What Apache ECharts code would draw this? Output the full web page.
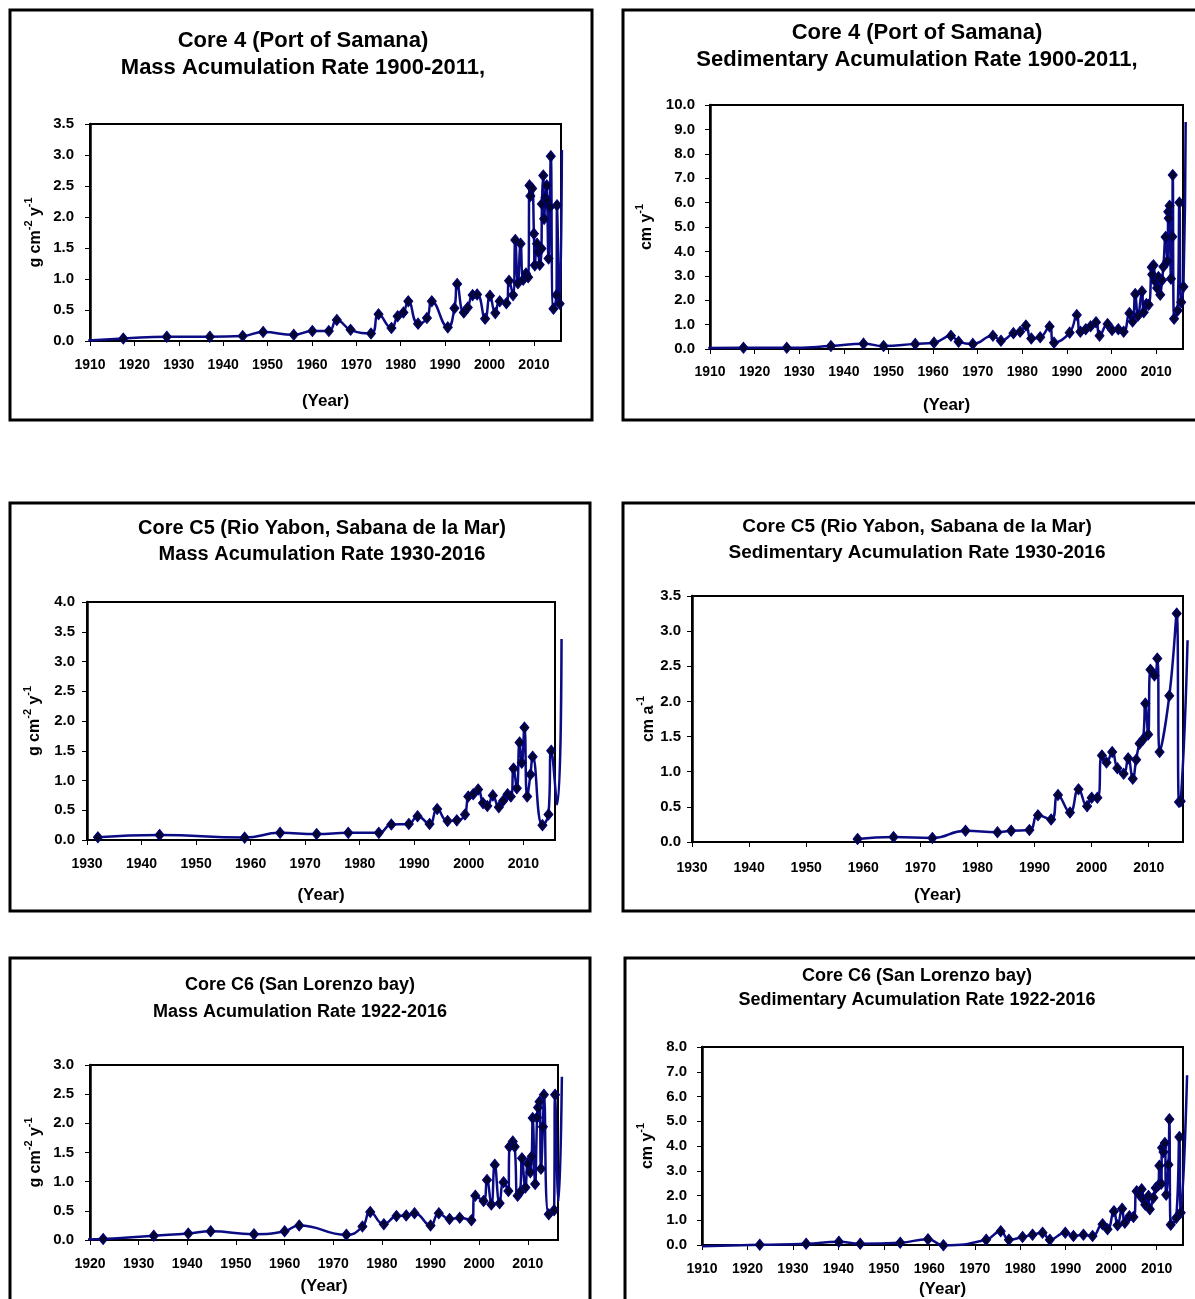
<!DOCTYPE html>
<html><head><meta charset="utf-8">
<script src="https://cdn.jsdelivr.net/npm/echarts@6/dist/echarts.min.js"></script>
<style>html,body{margin:0;padding:0;background:#fff}#c{width:1195px;height:1299px}</style>
</head><body><div id="c"></div>
<script>
// Panel 1: Core 4 mass accumulation rate (g cm-2 y-1)
const p1Year = [1909.6,1917.5,1927.3,1937.0,1944.4,1949.0,1955.9,1960.1,1963.8,1965.6,1968.7,1973.3,1975.0,1977.9,1979.3,1980.6,1981.7,1983.9,1985.9,1987.0,1990.6,1992.1,1992.7,1994.2,1995.1,1996.2,1997.2,1999.0,2000.1,2001.3,2002.3,2003.8,2004.4,2005.3,2005.8,2006.4,2007.0,2007.6,2008.2,2008.7,2009.0,2009.2,2009.6,2010.0,2010.2,2010.7,2011.0,2011.3,2011.7,2011.8,2012.1,2012.3,2012.6,2012.9,2013.0,2013.3,2013.6,2013.8,2014.4,2015.1,2015.2,2015.8,2016.3];
const p1Val  = [0.01,0.04,0.07,0.07,0.08,0.145,0.10,0.16,0.16,0.34,0.18,0.12,0.43,0.21,0.40,0.46,0.64,0.28,0.37,0.64,0.22,0.53,0.92,0.46,0.54,0.74,0.75,0.36,0.73,0.45,0.64,0.61,0.97,0.74,1.63,0.93,1.57,0.99,1.09,1.03,2.51,2.34,2.46,1.73,1.22,1.57,1.44,1.23,1.49,2.21,2.67,1.97,2.31,2.51,2.26,1.33,2.16,2.98,0.52,0.74,2.19,0.60,3.08];

// Panel 2: Core 4 sedimentary accumulation rate (cm y-1)
const p2Year = [1909.6,1917.5,1927.2,1937.1,1944.4,1948.9,1956.0,1960.2,1964.0,1965.7,1968.9,1973.4,1975.2,1978.0,1979.5,1980.8,1982.0,1984.0,1986.1,1987.1,1990.6,1992.2,1993.0,1994.2,1995.3,1996.5,1997.3,1999.1,2000.1,2001.5,2002.7,2004.0,2004.7,2005.3,2005.9,2006.8,2007.2,2007.8,2008.3,2009.0,2009.1,2009.4,2009.8,2010.2,2010.5,2010.9,2011.3,2011.6,2012.1,2012.5,2012.7,2012.8,2013.0,2013.3,2013.6,2013.7,2014.0,2014.8,2015.2,2015.6,2016.1,2016.6];
const p2Val  = [0.04,0.05,0.05,0.12,0.22,0.12,0.21,0.26,0.54,0.30,0.21,0.54,0.34,0.65,0.71,0.96,0.43,0.48,0.92,0.26,0.67,1.39,0.71,0.81,0.93,1.10,0.54,1.02,0.78,0.81,0.71,1.47,1.13,2.25,1.36,2.36,1.51,1.84,1.81,3.35,3.05,3.43,2.77,2.50,2.95,2.22,2.82,3.37,4.59,3.60,5.62,5.36,5.87,2.88,4.60,7.13,1.24,1.58,6.00,1.92,2.55,9.30];

// Panel 3: Core C5 mass accumulation rate (g cm-2 y-1)
const p3Year = [1932.0,1943.3,1958.9,1965.4,1972.1,1977.9,1983.5,1985.8,1989.0,1990.6,1992.8,1994.2,1996.1,1997.8,1999.3,1999.9,2000.8,2001.7,2002.6,2003.4,2004.4,2005.5,2006.3,2007.1,2007.7,2008.2,2008.8,2009.3,2009.7,2010.2,2010.7,2011.3,2011.7,2013.5,2014.6,2015.1,2016.2,2017.0];
const p3Val  = [0.045,0.084,0.04,0.12,0.10,0.12,0.12,0.26,0.27,0.40,0.27,0.52,0.32,0.33,0.43,0.73,0.77,0.85,0.62,0.57,0.75,0.55,0.66,0.77,0.73,1.20,0.87,1.64,1.30,1.89,0.73,1.10,1.40,0.25,0.43,1.50,0.60,3.38];

// Panel 4: Core C5 sedimentary accumulation rate (cm a-1)
const p4Year = [1959.0,1965.3,1972.1,1977.9,1983.5,1985.9,1989.1,1990.6,1992.9,1994.1,1996.2,1997.7,1999.2,2000.0,2001.0,2001.8,2002.6,2003.6,2004.5,2005.6,2006.4,2007.2,2007.8,2008.4,2009.0,2009.4,2009.9,2010.3,2011.0,2011.5,2011.9,2013.6,2014.9,2015.3,2015.6,2016.8];
const p4Val  = [0.043,0.07,0.057,0.16,0.14,0.16,0.17,0.38,0.32,0.67,0.42,0.75,0.51,0.63,0.63,1.23,1.13,1.28,1.05,0.97,1.19,0.90,1.17,1.40,1.46,1.97,1.53,2.45,2.37,2.61,1.28,2.08,3.25,0.57,0.58,2.87];

// Panel 5: Core C6 mass accumulation rate (g cm-2 y-1)
const p5Year = [1919.5,1922.7,1933.1,1940.2,1944.8,1953.7,1960.0,1963.0,1972.7,1976.0,1977.6,1980.4,1983.0,1985.0,1986.7,1990.0,1991.7,1993.9,1996.0,1998.4,1999.2,2000.9,2001.6,2002.5,2003.2,2004.2,2005.0,2006.0,2006.2,2006.9,2007.3,2007.9,2008.4,2008.8,2009.5,2010.0,2010.5,2010.8,2011.0,2011.5,2011.9,2012.1,2012.4,2012.7,2013.1,2013.3,2014.3,2015.4,2015.6,2016.3,2017.0];
const p5Val  = [0.01,0.017,0.074,0.11,0.15,0.10,0.15,0.25,0.09,0.23,0.48,0.27,0.41,0.42,0.46,0.25,0.46,0.36,0.38,0.34,0.76,0.67,1.03,0.61,1.29,0.63,0.99,0.84,1.60,1.69,1.60,0.76,0.82,1.40,0.90,1.31,1.16,1.43,2.09,0.96,2.10,2.27,2.37,1.22,1.94,2.49,0.44,0.51,2.49,0.66,2.80];

// Panel 6: Core C6 sedimentary accumulation rate (cm y-1)
const p6Year = [1910.0,1922.7,1932.9,1940.1,1944.8,1953.6,1959.7,1963.1,1972.5,1975.7,1977.5,1980.5,1982.7,1984.9,1986.5,1989.9,1991.7,1993.9,1995.9,1998.1,1999.2,2000.6,2001.4,2002.4,2003.0,2004.0,2004.9,2005.6,2006.2,2006.7,2007.1,2007.5,2008.2,2008.5,2009.3,2009.8,2010.4,2010.6,2011.0,2011.2,2011.5,2011.8,2012.1,2012.6,2012.8,2013.1,2014.3,2015.0,2015.3,2016.7];
const p6Val  = [0.03,0.09,0.13,0.21,0.13,0.17,0.31,0.07,0.29,0.63,0.29,0.40,0.49,0.57,0.29,0.57,0.44,0.49,0.44,0.91,0.71,1.43,0.87,1.53,0.97,1.23,1.20,2.23,2.09,2.31,1.89,1.69,2.04,1.51,1.97,2.36,2.47,3.25,2.53,3.97,3.80,4.16,2.09,3.29,5.11,0.89,1.16,4.40,1.37,6.87];

// Points drawn without a marker (curve ends running to the frame edge)
const p1Bare = [0, p1Year.length - 1];
const p2Bare = [0, p2Year.length - 1];
const p3Bare = [p3Year.length - 2, p3Year.length - 1];
const p4Bare = [p4Year.length - 1];
const p5Bare = [0, p5Year.length - 2, p5Year.length - 1];
const p6Bare = [0, p6Year.length - 1];

const titles = [
  ['Core 4 (Port of Samana)', 'Mass Acumulation Rate 1900-2011,'],
  ['Core 4 (Port of Samana)', 'Sedimentary Acumulation Rate 1900-2011,'],
  ['Core C5 (Rio Yabon, Sabana de la Mar)', 'Mass Acumulation Rate 1930-2016'],
  ['Core C5 (Rio Yabon, Sabana de la Mar)', 'Sedimentary Acumulation Rate 1930-2016'],
  ['Core C6 (San Lorenzo bay)', 'Mass Acumulation Rate 1922-2016'],
  ['Core C6 (San Lorenzo bay)', 'Sedimentary Acumulation Rate 1922-2016']
];
const massName = '{a|g cm}{s|-2}{a| y}{s|-1}';
const cmyName = '{a|cm y}{s|-1}';
const cmaName = '{a|cm a}{s|-1}';
const xName = '(Year)';

const FONT = '"Liberation Sans", Arial, Helvetica, sans-serif';

const panels = [
  {year:p1Year, val:p1Val, bare:p1Bare, title:titles[0], yName:massName,
   grid:{left:90, top:124, width:471, height:217}, xMin:1910, xMax:2016.1, yMax:3.5, yInt:0.5,
   frame:[10,10,582,410], tx:303, ty:27, tSize:22, tLH:27, yGap:51, xGap:52, xMargin:17, yMargin:16},
  {year:p2Year, val:p2Val, bare:p2Bare, title:titles[1], yName:cmyName,
   grid:{left:710, top:105, width:473, height:244}, xMin:1910, xMax:2016.0, yMax:10, yInt:1,
   frame:[623,10,620,410], tx:917, ty:19, tSize:22, tLH:27, yGap:60, xGap:48, xMargin:16, yMargin:15},
  {year:p3Year, val:p3Val, bare:p3Bare, title:titles[2], yName:massName,
   grid:{left:87, top:602, width:468, height:238}, xMin:1930, xMax:2015.8, yMax:4, yInt:0.5,
   frame:[10,503,580,408], tx:322, ty:515, tSize:20, tLH:26, yGap:49, xGap:47, xMargin:17, yMargin:12},
  {year:p4Year, val:p4Val, bare:p4Bare, title:titles[3], yName:cmaName,
   grid:{left:692, top:596, width:491, height:246}, xMin:1930, xMax:2016.0, yMax:3.5, yInt:0.5,
   frame:[623,503,620,408], tx:917, ty:514, tSize:19, tLH:26, yGap:39, xGap:45, xMargin:19, yMargin:11},
  {year:p5Year, val:p5Val, bare:p5Bare, title:titles[4], yName:massName,
   grid:{left:90, top:1065, width:468, height:175}, xMin:1920, xMax:2016.2, yMax:3, yInt:0.5,
   frame:[10,958,580,420], tx:300, ty:972, tSize:18, tLH:27, yGap:51, xGap:38, xMargin:17, yMargin:16},
  {year:p6Year, val:p6Val, bare:p6Bare, title:titles[5], yName:cmyName,
   grid:{left:702, top:1047, width:481, height:200}, xMin:1910, xMax:2015.8, yMax:8, yInt:1,
   frame:[625,958,620,420], tx:917, ty:964, tSize:18, tLH:24, yGap:51, xGap:36, xMargin:17, yMargin:15}
];

const option = {
  animation: false,
  backgroundColor: '#fff',
  textStyle: {fontFamily: FONT},
  title: [], grid: [], xAxis: [], yAxis: [], series: [],
  graphic: []
};

const N = panels.length;
const EXT = 12; // extra px of drawing room right of each plot (curve runs past the plot edge)

panels.forEach((p, i) => {
  option.graphic.push({
    type: 'rect', z: 100, silent: true,
    shape: {x: p.frame[0], y: p.frame[1], width: p.frame[2], height: p.frame[3]},
    style: {fill: 'none', stroke: '#000', lineWidth: 3}
  });
  option.title.push({
    text: p.title.join('\n'), left: p.tx, top: p.ty, textAlign: 'center', padding: 0,
    textStyle: {fontFamily: FONT, fontWeight: 'bold', fontSize: p.tSize, lineHeight: p.tLH, color: '#000'}
  });
  // visible plot area with axes
  option.grid.push(Object.assign({show: true, borderColor: '#000', borderWidth: 2, backgroundColor: '#fff', z: 0}, p.grid));
  option.xAxis.push({
    type: 'value', gridIndex: i, min: p.xMin, max: p.xMax, interval: 10,
    name: xName, nameLocation: 'middle', nameGap: p.xGap,
    nameTextStyle: {fontFamily: FONT, fontWeight: 'bold', fontSize: 17, color: '#000'},
    axisLine: {show: true, onZero: false, lineStyle: {color: '#000', width: 2}},
    axisTick: {show: true, length: 5, lineStyle: {color: '#000', width: 1}},
    axisLabel: {showMaxLabel: false, margin: p.xMargin, fontFamily: FONT, fontWeight: 'bold', fontSize: 14, color: '#000',
      formatter: v => String(Math.round(v))},
    splitLine: {show: false}
  });
  option.yAxis.push({
    type: 'value', gridIndex: i, min: 0, max: p.yMax, interval: p.yInt,
    name: p.yName, nameLocation: 'middle', nameRotate: 90, nameGap: p.yGap,
    nameTextStyle: {fontFamily: FONT, fontWeight: 'bold', fontSize: 16, color: '#000',
      rich: {
        a: {fontFamily: FONT, fontWeight: 'bold', fontSize: 16, lineHeight: 16, padding: [10,0,0,0], color: '#000'},
        s: {fontFamily: FONT, fontWeight: 'bold', fontSize: 11, lineHeight: 11, verticalAlign: 'top', color: '#000'}
      }},
    axisLine: {show: true, onZero: false, lineStyle: {color: '#000', width: 2.5}},
    axisTick: {show: true, length: 5, lineStyle: {color: '#000', width: 1}},
    axisLabel: {margin: p.yMargin, fontFamily: FONT, fontWeight: 'bold', fontSize: 15, color: '#000',
      formatter: v => v.toFixed(1)},
    splitLine: {show: false}
  });
});

// Hidden twin grids with identical scale but a little wider, so the curve
// may run past the right plot edge as in the original (x clip follows the grid).
panels.forEach((p, i) => {
  const g = p.grid;
  const xMax2 = p.xMin + (p.xMax - p.xMin) * (g.width + EXT) / g.width;
  option.grid.push({show: false, left: g.left, top: g.top, width: g.width + EXT, height: g.height});
  option.xAxis.push({type: 'value', gridIndex: N + i, min: p.xMin, max: xMax2, show: false,
    splitLine: {show: false}});
  option.yAxis.push({type: 'value', gridIndex: N + i, min: 0, max: p.yMax, show: false,
    splitLine: {show: false}});
  option.series.push({
    type: 'line', xAxisIndex: N + i, yAxisIndex: N + i, smooth: 0.5, clip: false, z: 3,
    symbol: 'diamond', symbolSize: [9, 11], showAllSymbol: true,
    lineStyle: {color: '#0b0b84', width: 2.5},
    itemStyle: {color: '#050530', borderColor: '#000080', borderWidth: 1},
    data: p.year.map((y, k) => {
      const d = {value: [y, p.val[k]]};
      if (p.bare.indexOf(k) >= 0) d.symbol = 'none';
      return d;
    })
  });
});

const chart = echarts.init(document.getElementById('c'), null, {renderer: 'canvas'});
chart.setOption(option);
</script>
</body></html>
